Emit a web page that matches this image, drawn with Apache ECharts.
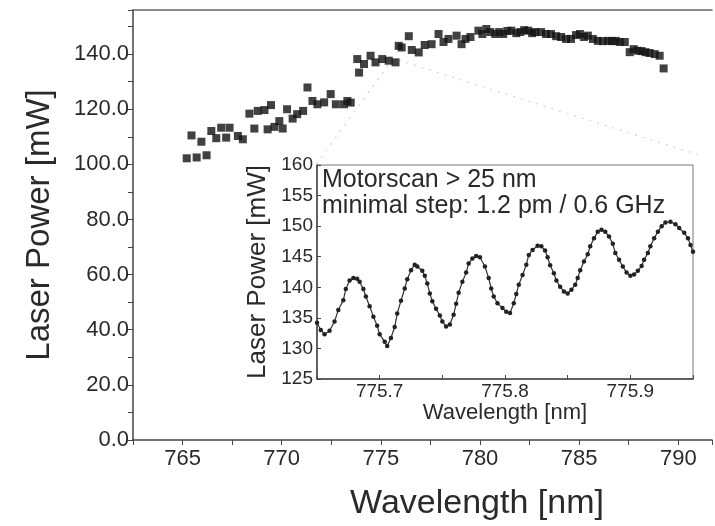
<!DOCTYPE html>
<html><head><meta charset="utf-8">
<script src="https://cdn.jsdelivr.net/npm/echarts@6/dist/echarts.min.js"></script>
<style>html,body{margin:0;padding:0;background:#fff;overflow:hidden}#c{width:715px;height:526px}</style>
</head><body><div id="c"></div>
<script>
// Main scan: wavelength (nm) and laser power (mW)
const mainX = [765.21,765.45,765.71,765.95,766.21,766.45,766.70,766.95,767.20,767.37,
767.79,768.04,768.37,768.62,768.79,769.13,769.29,769.46,769.63,769.88,
770.05,770.27,770.55,770.78,771.08,771.30,771.55,771.80,772.14,772.47,
772.73,773.14,773.31,773.48,773.81,773.90,774.15,774.48,774.73,775.07,
775.40,775.74,775.90,776.05,776.41,776.56,776.91,777.21,777.56,777.91,
778.16,778.41,778.82,779.07,779.27,779.52,779.92,780.12,780.32,780.52,
780.77,780.97,781.17,781.38,781.58,781.83,782.03,782.23,782.43,782.63,
782.78,783.08,783.33,783.58,783.84,784.09,784.34,784.59,784.84,785.04,
785.24,785.44,785.69,785.94,786.19,786.45,786.65,786.85,787.05,787.30,
787.55,787.75,787.95,788.15,788.35,788.55,788.81,789.06,789.26];
const mainY = [102.2,110.5,102.5,108.2,103.3,112.1,109.5,113.3,109.7,113.3,
110.3,109.1,118.4,113.0,119.4,119.7,112.7,121.5,113.6,115.7,
113.0,120.0,116.6,118.2,119.4,127.9,123.0,121.8,122.5,125.5,
121.8,121.8,123.0,122.4,138.2,133.3,136.4,139.4,137.0,138.2,
137.6,137.0,143.0,142.4,146.5,141.5,140.6,143.3,143.6,147.3,
144.4,145.5,146.7,143.6,145.5,146.2,148.5,147.3,149.1,148.0,
147.3,148.0,147.3,148.4,148.5,147.6,148.0,148.7,148.5,147.6,
148.0,148.0,147.3,147.3,146.5,146.2,145.5,145.5,146.9,147.3,
146.2,146.7,145.5,144.8,144.7,144.8,144.7,144.8,144.4,144.4,
140.7,141.8,141.2,141.1,140.7,140.4,140.0,139.4,134.8];

// Inset fine scan
const insetX = [775.650,775.653,775.656,775.660,775.664,775.667,775.671,775.673,775.676,775.679,
775.682,775.684,775.687,775.689,775.692,775.695,775.698,775.700,775.704,775.706,
775.709,775.712,775.714,775.717,775.720,775.722,775.725,775.728,775.730,775.734,
775.736,775.738,775.740,775.742,775.745,775.748,775.750,775.753,775.756,775.759,
775.761,775.763,775.766,775.769,775.771,775.774,775.777,775.780,775.784,775.787,
775.789,775.791,775.794,775.798,775.801,775.804,775.807,775.809,775.811,775.814,
775.817,775.819,775.822,775.826,775.829,775.832,775.834,775.836,775.839,775.841,
775.844,775.847,775.850,775.853,775.856,775.858,775.860,775.863,775.866,775.868,
775.871,775.874,775.877,775.880,775.883,775.886,775.888,775.891,775.894,775.897,
775.900,775.903,775.906,775.909,775.911,775.914,775.916,775.919,775.922,775.925,
775.928,775.932,775.936,775.939,775.943,775.946,775.948,775.950];
const insetY = [134.2,133.0,132.3,132.9,134.4,136.3,137.9,139.7,141.1,141.5,
141.4,140.9,139.7,138.5,136.9,135.2,133.7,132.3,131.1,130.4,
131.7,133.5,135.7,137.8,139.8,141.3,142.8,143.7,143.4,142.7,
141.9,140.6,139.0,137.7,136.5,135.4,134.4,133.6,133.9,135.5,
137.3,139.1,140.9,142.4,143.9,144.7,145.1,144.9,143.4,141.5,
139.8,138.5,137.4,136.6,136.0,135.8,137.4,138.9,140.4,142.0,
143.7,145.3,146.1,146.8,146.7,146.0,144.9,143.6,142.3,141.1,
140.1,139.3,139.0,139.6,140.4,141.5,142.8,144.2,145.4,146.7,
148.0,149.1,149.4,149.1,148.3,147.1,145.6,144.5,143.4,142.4,
141.9,142.1,142.7,143.5,144.5,145.6,146.7,148.0,149.1,150.0,
150.6,150.7,150.3,149.7,148.9,148.0,146.9,145.8];

// faint zoom connector lines (main-axis coordinates)
const connectorLeftX = [775.60, 771.74], connectorLeftY = [138.2, 100.0];
const connectorRightX = [775.90, 790.96], connectorRightY = [137.8, 103.6];

const mainYTicks = [0,20,40,60,80,100,120,140];
const mainXTicks = [765,770,775,780,785,790];
const insetXTicks = [775.7,775.8,775.9];
const mainXTitle = 'Wavelength [nm]';

const zip = (a,b) => a.map((v,i) => [v,b[i]]);
const FONT = "'Liberation Sans', Arial, sans-serif";
const TXT = '#2a2a2a';
const AX = '#444';

const chart = echarts.init(document.getElementById('c'), null, {renderer:'canvas'});
chart.setOption({
  animation:false,
  backgroundColor:'#fff',
  textStyle:{fontFamily:FONT},
  grid:[
    {left:133, top:10, right:0, bottom:86, containLabel:false},
    {left:317, top:165, width:376, height:214, show:true, backgroundColor:'#fff', borderColor:'#777', borderWidth:1, z:5}
  ],
  xAxis:[
    {gridIndex:0, type:'value', min:762.5, max:791.7, interval:2.5, position:'bottom',
     axisLine:{show:true, onZero:false, lineStyle:{color:AX, width:1.5}},
     axisTick:{show:true, length:5, lineStyle:{color:AX}},
     axisLabel:{fontSize:22, color:TXT, margin:8, fontFamily:FONT,
       formatter:v => mainXTicks.some(t => Math.abs(t-v)<1e-6) ? String(Math.round(v)) : ''},
     splitLine:{show:false}},
    {gridIndex:0, type:'value', min:762.5, max:791.7, position:'top',
     axisLine:{show:true, onZero:false, lineStyle:{color:'#666', width:1.5}},
     axisTick:{show:false}, axisLabel:{show:false}, splitLine:{show:false}},
    {gridIndex:1, type:'value', min:775.65, max:775.95, interval:0.05, position:'bottom',
     name:'Wavelength [nm]', nameLocation:'middle', nameGap:22,
     nameTextStyle:{fontSize:22, color:TXT, fontFamily:FONT},
     axisLine:{show:true, onZero:false, lineStyle:{color:AX, width:1.5}},
     axisTick:{show:true, length:4, inside:true, lineStyle:{color:AX}},
     axisLabel:{fontSize:19, color:TXT, margin:3, fontFamily:FONT,
       formatter:v => insetXTicks.some(t => Math.abs(t-v)<1e-6) ? v.toFixed(1) : ''},
     splitLine:{show:false}, z:6}
  ],
  yAxis:[
    {gridIndex:0, type:'value', min:0, max:156, interval:10,
     name:'Laser Power [mW]', nameLocation:'middle', nameGap:77,
     nameTextStyle:{fontSize:33, color:TXT, fontFamily:FONT},
     axisLine:{show:true, onZero:false, lineStyle:{color:AX, width:1.5}},
     axisTick:{show:true, length:5, lineStyle:{color:AX}},
     axisLabel:{fontSize:22, color:TXT, margin:4, fontFamily:FONT,
       formatter:v => mainYTicks.some(t => Math.abs(t-v)<1e-6) ? v.toFixed(1) : ''},
     splitLine:{show:false}},
    {gridIndex:1, type:'value', min:125, max:160, interval:5,
     name:'Laser Power [mW]', nameLocation:'middle', nameGap:45,
     nameTextStyle:{fontSize:26, color:TXT, fontFamily:FONT},
     axisLine:{show:true, onZero:false, lineStyle:{color:AX, width:1.5}},
     axisTick:{show:true, length:4, inside:true, lineStyle:{color:AX}},
     axisLabel:{fontSize:19, color:TXT, margin:4, fontFamily:FONT},
     splitLine:{show:false}, z:6}
  ],
  series:[
    {type:'line', xAxisIndex:0, yAxisIndex:0, data:zip(connectorLeftX, connectorLeftY),
     symbol:'none', silent:true, lineStyle:{color:'#d4d4d4', width:1.2, type:[2,6]}, z:1},
    {type:'line', xAxisIndex:0, yAxisIndex:0, data:zip(connectorRightX, connectorRightY),
     symbol:'none', silent:true, lineStyle:{color:'#d4d4d4', width:1.2, type:[2,6]}, z:1},
    {type:'scatter', xAxisIndex:0, yAxisIndex:0, data:zip(mainX, mainY),
     symbol:'rect', symbolSize:8, itemStyle:{color:'#111'}, z:3},
    {type:'line', xAxisIndex:2, yAxisIndex:1, data:zip(insetX, insetY),
     symbol:'circle', symbolSize:4.5, showAllSymbol:true,
     lineStyle:{color:'#333', width:1.2}, itemStyle:{color:'#222'}, z:7}
  ],
  graphic:[
    // main x-axis title: the original frame is cropped on the right, so its title sits right of the visible axis centre
    {type:'text', x:477, y:487, z:10, style:{text:mainXTitle, textAlign:'center', font:"34px 'Liberation Sans', Arial, sans-serif", fill:TXT}},
    {type:'text', left:322, top:168, z:10, style:{text:'Motorscan > 25 nm', font:"25px 'Liberation Sans', Arial, sans-serif", fill:TXT}},
    {type:'text', left:322, top:194, z:10, style:{text:'minimal step: 1.2 pm / 0.6 GHz', font:"25px 'Liberation Sans', Arial, sans-serif", fill:TXT}}
  ]
});
</script></body></html>
